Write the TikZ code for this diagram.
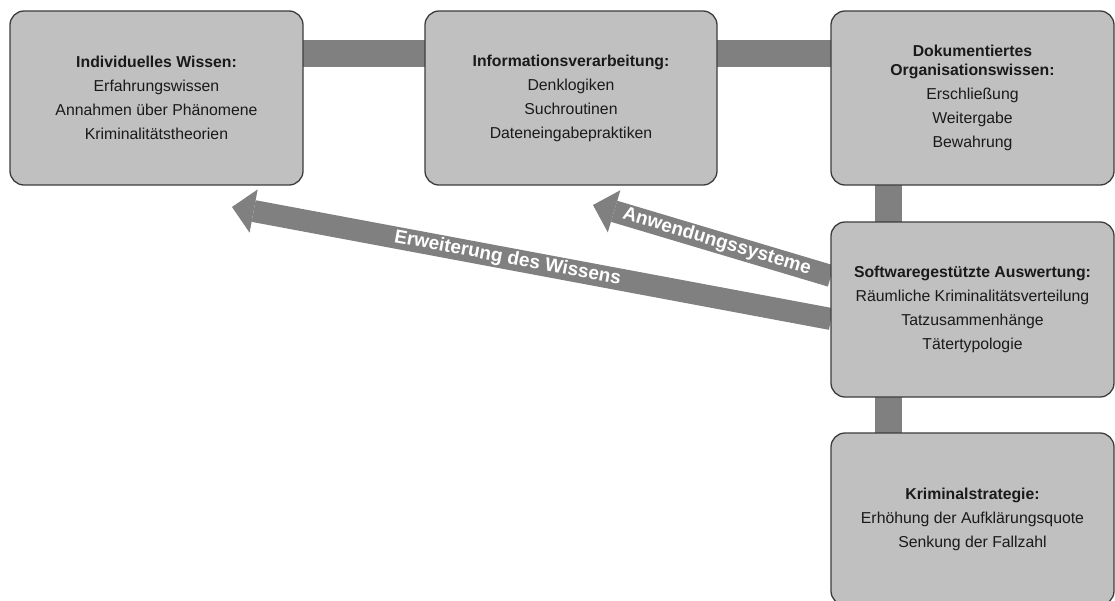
\documentclass[tikz,border=0pt]{standalone}
\usepackage{fontspec}
\setmainfont{Liberation Sans}
\usetikzlibrary{arrows.meta,backgrounds}
\definecolor{boxfill}{HTML}{C0C0C0}
\definecolor{boxline}{HTML}{3C3C3C}
\definecolor{linkgray}{HTML}{808080}
\definecolor{txt}{HTML}{1A1A1A}

\begin{document}
\begin{tikzpicture}[x=1pt,y=-1pt,
  box/.style={draw=boxline, line width=1.3pt, fill=boxfill, rounded corners=14pt,
    inner sep=0pt, outer sep=0pt, minimum width=#1, minimum height=174pt,
    align=center, text=txt, font=\fontsize{15.8}{19}\selectfont},
  box/.default=283pt,
  bar/.style={draw=linkgray, line width=27pt},
  flow/.style={draw=linkgray, line width=22pt,
    -{Triangle[length=22pt,width=44pt,line width=0pt]}},
  flowlabel/.style={text=white, font=\bfseries\fontsize{19}{19}\selectfont,
    sloped, inner sep=0pt}
]
\clip (0,0) rectangle (1115,600);

% knowledge boxes
\node[box=293pt] (ind) at (156.5,98)
  {\textbf{Individuelles Wissen:}\\[5pt] Erfahrungswissen\\[5pt]
   Annahmen über Phänomene\\[5pt] Kriminalitätstheorien};
\node[box=292pt] (info) at (571,98)
  {\textbf{Informationsverarbeitung:}\\[5pt] Denklogiken\\[5pt]
   Suchroutinen\\[5pt] Dateneingabepraktiken};
\node[box] (dok) at (972.5,98)
  {\textbf{Dokumentiertes}\\\textbf{Organisationswissen:}\\[5pt]
   Erschließung\\[5pt] Weitergabe\\[5pt] Bewahrung};
\node[box, minimum height=175pt] (sw) at (972.5,309.5)
  {\textbf{Softwaregestützte Auswertung:}\\[5pt]
   Räumliche Kriminalitätsverteilung\\[5pt]
   Tatzusammenhänge\\[5pt] Tätertypologie};
\node[box, minimum height=172pt] (ks) at (972.5,519)
  {\textbf{Kriminalstrategie:}\\[5pt]
   Erhöhung der Aufklärungsquote\\[5pt] Senkung der Fallzahl};

% connecting bars and feedback arrows behind the boxes
\begin{scope}[on background layer]
  \draw[bar] ([yshift=44.5pt]ind.east) -- ([yshift=44.5pt]info.west);
  \draw[bar] ([yshift=44.5pt]info.east) -- ([yshift=44.5pt]dok.west);
  \draw[bar] ([xshift=-84pt]dok.south) -- ([xshift=-84pt]sw.north);
  \draw[bar] ([xshift=-84pt]sw.south) -- ([xshift=-84pt]ks.north);

  \coordinate (tipW) at (232,207);
  \coordinate (tipA) at (593,205);
  \draw[flow] ([yshift=-9.5pt]sw.west) -- (tipW)
    node[flowlabel, pos=0.54] {Erweiterung des Wissens};
  \draw[flow] ([yshift=33.5pt]sw.west) -- (tipA)
    node[flowlabel, pos=0.48] {Anwendungssysteme};
\end{scope}
\end{tikzpicture}
\end{document}
